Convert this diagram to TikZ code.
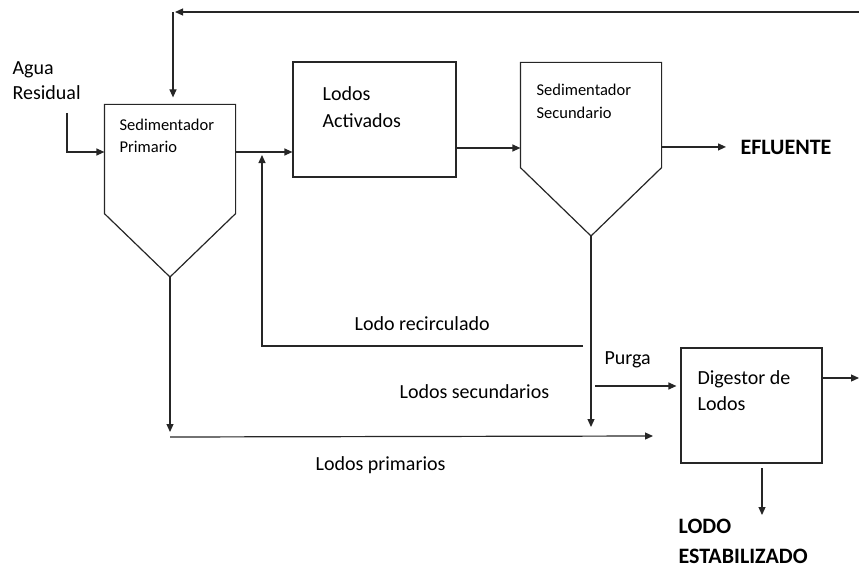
\documentclass[tikz,border=0pt]{standalone}
\usepackage{fontspec}
\setmainfont{Carlito}
\usetikzlibrary{positioning,arrows.meta}

\begin{document}
\begin{tikzpicture}[
  x=1pt, y=-1pt, >={Triangle[length=8pt,width=7pt]}, line width=1.2pt, draw=black!85,
  txt/.style={inner sep=0pt, anchor=base west, align=left, font=\fontsize{20}{27}\selectfont},
  small/.style={txt, font=\fontsize{16.5}{22}\selectfont},
  bold/.style={txt, font=\fontsize{22}{30}\selectfont\bfseries},
  box/.style={draw, inner sep=0pt},
  tank/.style={inner sep=0pt}]
  \useasboundingbox (0,0) rectangle (859,567);

  % units
  \node[tank, minimum width=130pt, minimum height=108pt] (prim) at (170,159) {};
  \coordinate (primtip) at (170,277);
  \draw (prim.south west) -- (prim.north west) -- (prim.north east) -- (prim.south east) -- (primtip) -- cycle;
  \node[small] (primlbl) at (119,153) {Sedimentador\\Primario};

  \node[box, minimum width=163pt, minimum height=115pt] (act) at (374.5,119.5) {};
  \node[txt] (actlbl) at (322,128) {Lodos\\Activados};

  \node[tank, minimum width=140pt, minimum height=104pt] (sec) at (591,115) {};
  \coordinate (sectip) at (591,236);
  \draw (sec.south west) -- (sec.north west) -- (sec.north east) -- (sec.south east) -- (sectip) -- cycle;
  \node[small, font=\fontsize{16.5}{24}\selectfont] (seclbl) at (536,119) {Sedimentador\\Secundario};

  \node[box, minimum width=141pt, minimum height=115pt] (dig) at (751.5,405.5) {};
  \node[txt, font=\fontsize{20}{26}\selectfont] (diglbl) at (697,410) {Digestor de\\Lodos};

  % labels
  \node[txt, font=\fontsize{20}{25}\selectfont] (agua) at (12,100) {Agua\\Residual};
  \node[bold] (efl) at (740,154) {EFLUENTE};
  \node[bold] (lodo) at (678,563) {LODO\\ESTABILIZADO};
  \node[txt] (reclbl) at (354,330) {Lodo recirculado};
  \node[txt] (seclodos) at (399,398) {Lodos secundarios};
  \node[txt] (primlodos) at (315,470) {Lodos primarios};
  \node[txt] (purga) at (604,364) {Purga};

  % main line
  \coordinate (in) at (67,113);
  \coordinate (mix) at (262,152);
  \draw[->] (in) |- (prim.west |- mix);
  \draw[->] (prim.east |- mix) -- (act.west |- mix);
  \draw[->] (act.east |- 0,148) -- (sec.west |- 0,148);
  \draw[->, shorten >=14pt] (sec.east |- efl.west) -- (efl.west);

  % recirculation
  \coordinate (rec) at (583,346);
  \draw[->] (rec) -| ([yshift=-3pt]mix);
  \coordinate (ret) at (859,12);
  \coordinate (retc) at (173,12);
  \draw[->] (ret) -- ([xshift=2pt]retc);
  \draw[->] (retc) -- ([yshift=7pt]prim.north -| retc);

  % sludge
  \coordinate (secout) at (591,427);
  \draw[->] (sectip) -- (secout);
  \coordinate (primout) at (170,432);
  \draw[->] (primtip) -- (primout);
  \coordinate (p1) at (170,437);
  \coordinate (p2) at (653,436);
  \draw[->] (p1) -- (p2);
  \coordinate (pg) at (595,386);
  \draw[->, shorten >=4pt] (pg) -- (dig.west |- pg);
  \coordinate (out) at (859,378);
  \draw[->] (dig.east |- out) -- (out);
  \coordinate (ds) at (762,468);
  \coordinate (de) at (762,515);
  \draw[->] (ds) -- (de);
\end{tikzpicture}
\end{document}
